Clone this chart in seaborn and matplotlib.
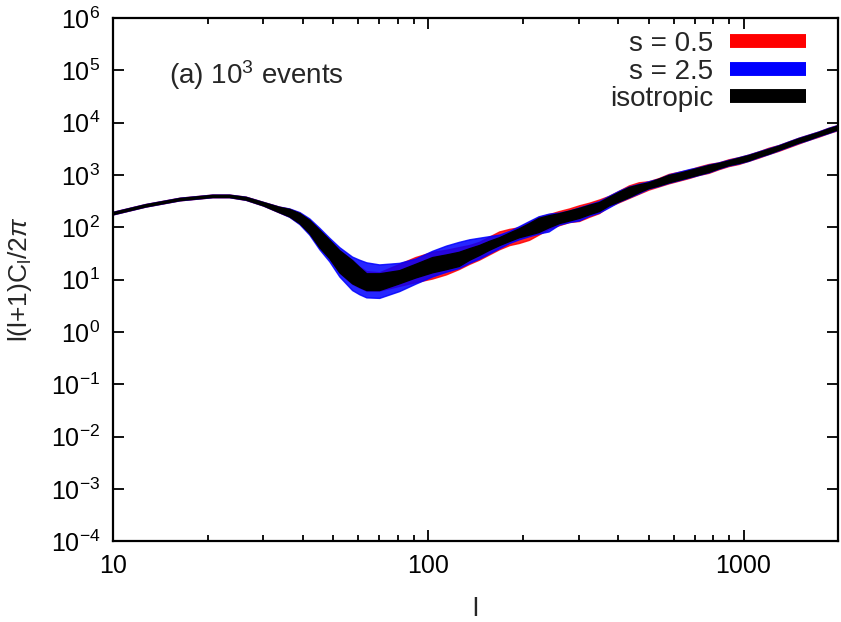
import numpy as np
import matplotlib
matplotlib.use("Agg")
import matplotlib.pyplot as plt
from matplotlib.lines import Line2D
import matplotlib.ticker as mticker
import seaborn as sns

# multipole l
ell = [10, 12.7, 16.3, 20.7, 23.4, 26.4, 30, 33.7, 36.3, 39.1, 42, 45.2, 48.6, 52.3, 57.4,
       60.5, 63.7, 70,
       81, 91, 103, 114, 125, 135, 145, 156, 168, 181, 194, 209, 224, 241, 260, 280,
       301, 324, 348, 374, 403, 433, 465, 500, 538, 579, 623, 670, 721, 775, 834,
       897, 965, 1037, 1115, 1200, 1290, 1387, 1492, 1605, 1726, 1856, 2000]

# log10 of l(l+1)C_l/2pi band limits
iso_lo = [2.25, 2.40, 2.52, 2.58, 2.58, 2.53, 2.42, 2.29, 2.21, 2.08, 1.89, 1.62, 1.41, 1.14, 0.93,
          0.86, 0.80, 0.80,
          0.93, 1.04, 1.14, 1.20, 1.26, 1.38, 1.47, 1.57, 1.66, 1.74, 1.81, 1.86, 1.91, 2.00,
          2.08, 2.13, 2.18, 2.25, 2.31, 2.42, 2.50, 2.58, 2.67, 2.75, 2.80, 2.86, 2.91, 2.96,
          3.01, 3.06, 3.13, 3.19, 3.23, 3.28, 3.35, 3.41, 3.48, 3.55, 3.62, 3.68, 3.75, 3.81, 3.88]
iso_hi = [2.29, 2.44, 2.56, 2.62, 2.62, 2.58, 2.48, 2.39, 2.35, 2.27, 2.14, 1.95, 1.76, 1.56, 1.37,
          1.24, 1.12, 1.12,
          1.18, 1.30, 1.43, 1.48, 1.53, 1.60, 1.66, 1.74, 1.81, 1.90, 1.98, 2.08, 2.18, 2.23,
          2.27, 2.32, 2.37, 2.43, 2.48, 2.58, 2.68, 2.77, 2.82, 2.86, 2.93, 3.00, 3.04, 3.09,
          3.14, 3.19, 3.23, 3.28, 3.33, 3.38, 3.44, 3.50, 3.56, 3.63, 3.70, 3.76, 3.82, 3.89, 3.95]

s25_lo = [2.245, 2.395, 2.515, 2.575, 2.575, 2.525, 2.415, 2.285, 2.20, 2.06, 1.86, 1.58, 1.35, 1.06, 0.80,
          0.72, 0.66, 0.65,
          0.78, 0.92, 1.06, 1.15, 1.22, 1.32, 1.40, 1.50, 1.60, 1.70, 1.77, 1.83, 1.88, 1.92,
          2.05, 2.10, 2.13, 2.22, 2.28, 2.38, 2.49, 2.57, 2.65, 2.74, 2.79, 2.85, 2.90, 2.95,
          3.00, 3.05, 3.12, 3.18, 3.22, 3.27, 3.34, 3.40, 3.47, 3.54, 3.61, 3.67, 3.74, 3.80, 3.87]
s25_hi = [2.295, 2.445, 2.565, 2.625, 2.625, 2.585, 2.485, 2.395, 2.36, 2.29, 2.17, 1.99, 1.80, 1.62, 1.44,
          1.38, 1.33, 1.29,
          1.32, 1.40, 1.55, 1.65, 1.72, 1.77, 1.80, 1.83, 1.86, 1.93, 2.02, 2.12, 2.21, 2.26,
          2.28, 2.32, 2.38, 2.44, 2.50, 2.60, 2.70, 2.78, 2.83, 2.88, 2.93, 3.01, 3.06, 3.11,
          3.15, 3.20, 3.24, 3.29, 3.34, 3.39, 3.45, 3.51, 3.57, 3.64, 3.71, 3.77, 3.83, 3.90, 3.96]

s05_lo = [2.245, 2.395, 2.515, 2.575, 2.575, 2.525, 2.415, 2.285, 2.205, 2.07, 1.88, 1.61, 1.40, 1.13, 0.92,
          0.85, 0.79, 0.79,
          0.88, 0.95, 1.02, 1.10, 1.20, 1.30, 1.38, 1.48, 1.58, 1.66, 1.70, 1.76, 1.86, 1.97,
          2.04, 2.10, 2.12, 2.20, 2.27, 2.40, 2.48, 2.56, 2.64, 2.72, 2.78, 2.84, 2.89, 2.94,
          3.00, 3.04, 3.11, 3.17, 3.21, 3.27, 3.33, 3.40, 3.46, 3.53, 3.60, 3.67, 3.73, 3.80, 3.86]
s05_hi = [2.295, 2.445, 2.565, 2.625, 2.625, 2.585, 2.485, 2.395, 2.355, 2.28, 2.15, 1.96, 1.77, 1.57, 1.38,
          1.25, 1.16, 1.14,
          1.30, 1.43, 1.53, 1.57, 1.62, 1.66, 1.72, 1.82, 1.92, 1.97, 2.00, 2.10, 2.20, 2.25,
          2.31, 2.36, 2.42, 2.47, 2.53, 2.60, 2.70, 2.80, 2.86, 2.88, 2.94, 3.02, 3.06, 3.10,
          3.16, 3.21, 3.24, 3.30, 3.34, 3.39, 3.45, 3.52, 3.57, 3.64, 3.71, 3.77, 3.83, 3.90, 3.96]

labels = ["s = 0.5", "s = 2.5", "isotropic"]
colors = ["#ff0000", "#0000ff", "#000000"]

sns.set_style("ticks")
plt.rcParams["font.family"] = ["Liberation Sans", "DejaVu Sans"]
plt.rcParams["mathtext.fontset"] = "custom"
plt.rcParams["mathtext.rm"] = "Liberation Sans"
plt.rcParams["mathtext.it"] = "Liberation Sans:italic"

fig = plt.figure(figsize=(8.41, 6.22), dpi=100)
ax = fig.add_axes([0.134, 0.130, 0.863, 0.841])

x = np.array(ell)
bands = [(s05_lo, s05_hi, 0.85), (s25_lo, s25_hi, 0.85), (iso_lo, iso_hi, 1.0)]
for (lo, hi, a), c in zip(bands, colors):
    ax.fill_between(x, 10 ** np.array(lo), 10 ** np.array(hi), color=c, alpha=a,
                    linewidth=1.0, edgecolor=c)

ax.set_xscale("log")
ax.set_yscale("log")
ax.set_xlim(10, 2000)
ax.set_ylim(1e-4, 1e6)

ax.yaxis.set_major_locator(mticker.LogLocator(base=10, numticks=20))
ax.yaxis.set_minor_locator(mticker.NullLocator())
ax.xaxis.set_major_locator(mticker.FixedLocator([10, 100, 1000]))
ax.xaxis.set_major_formatter(mticker.FixedFormatter(["10", "100", "1000"]))
ax.xaxis.set_minor_locator(mticker.LogLocator(base=10, subs=np.arange(2, 10), numticks=20))
ax.xaxis.set_minor_formatter(mticker.NullFormatter())

ax.tick_params(which="both", direction="in", top=True, right=True, labelsize=18,
               width=1.3, colors="black")
ax.tick_params(which="major", length=8, pad=9)
ax.tick_params(which="minor", length=4)
for sp in ax.spines.values():
    sp.set_linewidth(1.6)
    sp.set_color("black")
    sp.set_visible(True)

ax.set_xlabel("l", fontsize=19, labelpad=14)
ax.set_ylabel(r"l(l+1)C$_\mathrm{l}$/2$\pi$", fontsize=19, labelpad=12)

ax.text(0.078, 0.891, r"(a) 10$^\mathrm{3}$ events", transform=ax.transAxes,
        fontsize=20, ha="left", va="center")

handles = [Line2D([0], [0], color=c, lw=10, solid_capstyle="butt") for c in colors]
ax.legend(handles, labels, loc="upper right", bbox_to_anchor=(0.982, 1.012),
          frameon=False, markerfirst=False, fontsize=20, handlelength=2.75,
          handletextpad=0.6, labelspacing=0.05, borderpad=0.2)

fig.savefig("out.png", dpi=100)
